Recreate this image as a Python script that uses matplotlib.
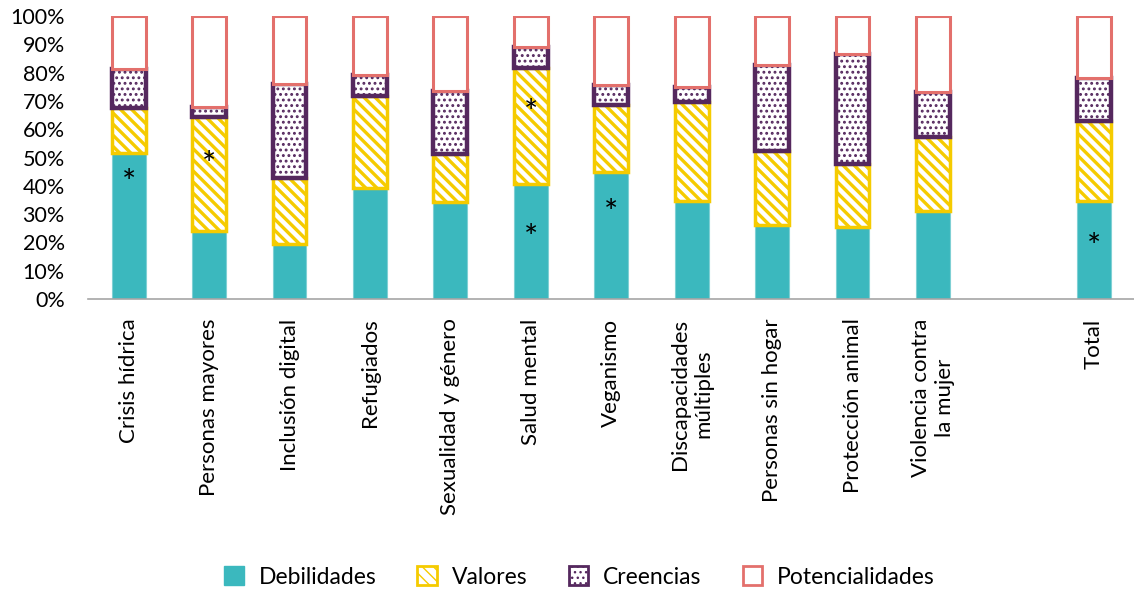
import matplotlib
matplotlib.use("Agg")
import matplotlib.pyplot as plt
import matplotlib.transforms as mtransforms
from matplotlib.ticker import FuncFormatter
from matplotlib.patches import Patch

plt.rcParams['font.family'] = ['Lato', 'DejaVu Sans']

categories = ["Crisis hídrica", "Personas mayores", "Inclusión digital", "Refugiados",
              "Sexualidad y género", "Salud mental", "Veganismo",
              "Discapacidades\nmúltiples", "Personas sin hogar", "Protección animal",
              "Violencia contra\nla mujer", "", "Total"]
positions = [0, 1, 2, 3, 4, 5, 6, 7, 8, 9, 10, 11, 12]

debilidades = [51.6, 24.0, 19.4, 39.2, 34.4, 40.6, 45.0, 34.6, 26.1, 25.3, 31.1, 0, 34.6]
valores = [15.9, 40.3, 23.4, 32.5, 16.9, 40.9, 23.4, 34.9, 26.3, 22.3, 26.3, 0, 28.3]
creencias = [13.8, 3.5, 33.2, 7.5, 22.1, 7.4, 7.3, 5.5, 30.2, 38.8, 15.6, 0, 15.1]
potencialidades = [18.7, 32.2, 24.0, 20.8, 26.6, 11.1, 24.3, 25.0, 17.4, 13.6, 27.0, 0, 22.0]

# asterisk marks: (bar index, y in %)
asterisks_x = [0, 1, 5, 5, 6, 12]
asterisks_y = [43.8, 50.2, 68.5, 24.4, 33.2, 21.2]

series_names = ["Debilidades", "Valores", "Creencias", "Potencialidades"]

teal = "#3BB8BE"
yellow = "#F5CB00"
purple = "#55285E"
salmon = "#E3706C"

fig = plt.figure(figsize=(11.34, 5.90), dpi=100)
ax = fig.add_axes([0.078, 0.493, 0.922, 0.48])

idx = [i for i, c in enumerate(categories) if c != ""]
px = [positions[i] for i in idx]
w = 0.42

d = [debilidades[i] for i in idx]
v = [valores[i] for i in idx]
c = [creencias[i] for i in idx]
p = [potencialidades[i] for i in idx]
b1 = d
b2 = [a + b for a, b in zip(d, v)]
b3 = [a + b for a, b in zip(b2, c)]

ax.bar(px, d, width=w, color=teal, edgecolor="#7FD0D4", linewidth=0.8)
with plt.rc_context({'hatch.linewidth': 2.4}):
    ax.bar(px, v, bottom=b1, width=w, color="white", edgecolor=yellow, hatch="\\\\\\", linewidth=2.5)
with plt.rc_context({'hatch.linewidth': 1.3}):
    ax.bar(px, c, bottom=b2, width=w, color="white", edgecolor=purple, hatch="...", linewidth=3.2)
ax.bar(px, p, bottom=b3, width=w, color="white", edgecolor=salmon, linewidth=2.2)

off = mtransforms.offset_copy(ax.transData, fig=fig, x=0, y=-6, units="dots")
for xx, yy in zip(asterisks_x, asterisks_y):
    ax.text(positions[xx], yy, "*", ha="center", va="center_baseline", fontsize=24,
            color="black", transform=off)

ax.set_xlim(-0.5, 12.5)
ax.set_ylim(0, 100)
ax.set_yticks(range(0, 101, 10))
ax.yaxis.set_major_formatter(FuncFormatter(lambda val, pos: f"{int(val)}%"))
ax.set_xticks(positions)
ax.set_xticklabels(categories, rotation=90, va="top", ha="center", fontsize=16)
ax.tick_params(axis="both", length=0)
ax.tick_params(axis="y", labelsize=15.5, pad=17)
ax.tick_params(axis="x", pad=14)
for s in ["top", "right", "left"]:
    ax.spines[s].set_visible(False)
ax.spines["bottom"].set_color("#A6A6A6")
ax.spines["bottom"].set_linewidth(1.2)

with plt.rc_context({'hatch.linewidth': 2.0}):
    h_val = Patch(facecolor="white", edgecolor=yellow, hatch="\\\\\\", linewidth=2)
with plt.rc_context({'hatch.linewidth': 1.3}):
    h_cre = Patch(facecolor="white", edgecolor=purple, hatch="...", linewidth=2)
handles = [
    Patch(facecolor=teal, edgecolor=teal),
    h_val,
    h_cre,
    Patch(facecolor="white", edgecolor=salmon, linewidth=2),
]
fig.legend(handles, series_names, loc="center", bbox_to_anchor=(0.511, 0.022),
           ncol=4, frameon=False, fontsize=16.5, handlelength=0.85, handleheight=0.85,
           columnspacing=1.8, handletextpad=0.65)

fig.savefig("out.png", dpi=100)
